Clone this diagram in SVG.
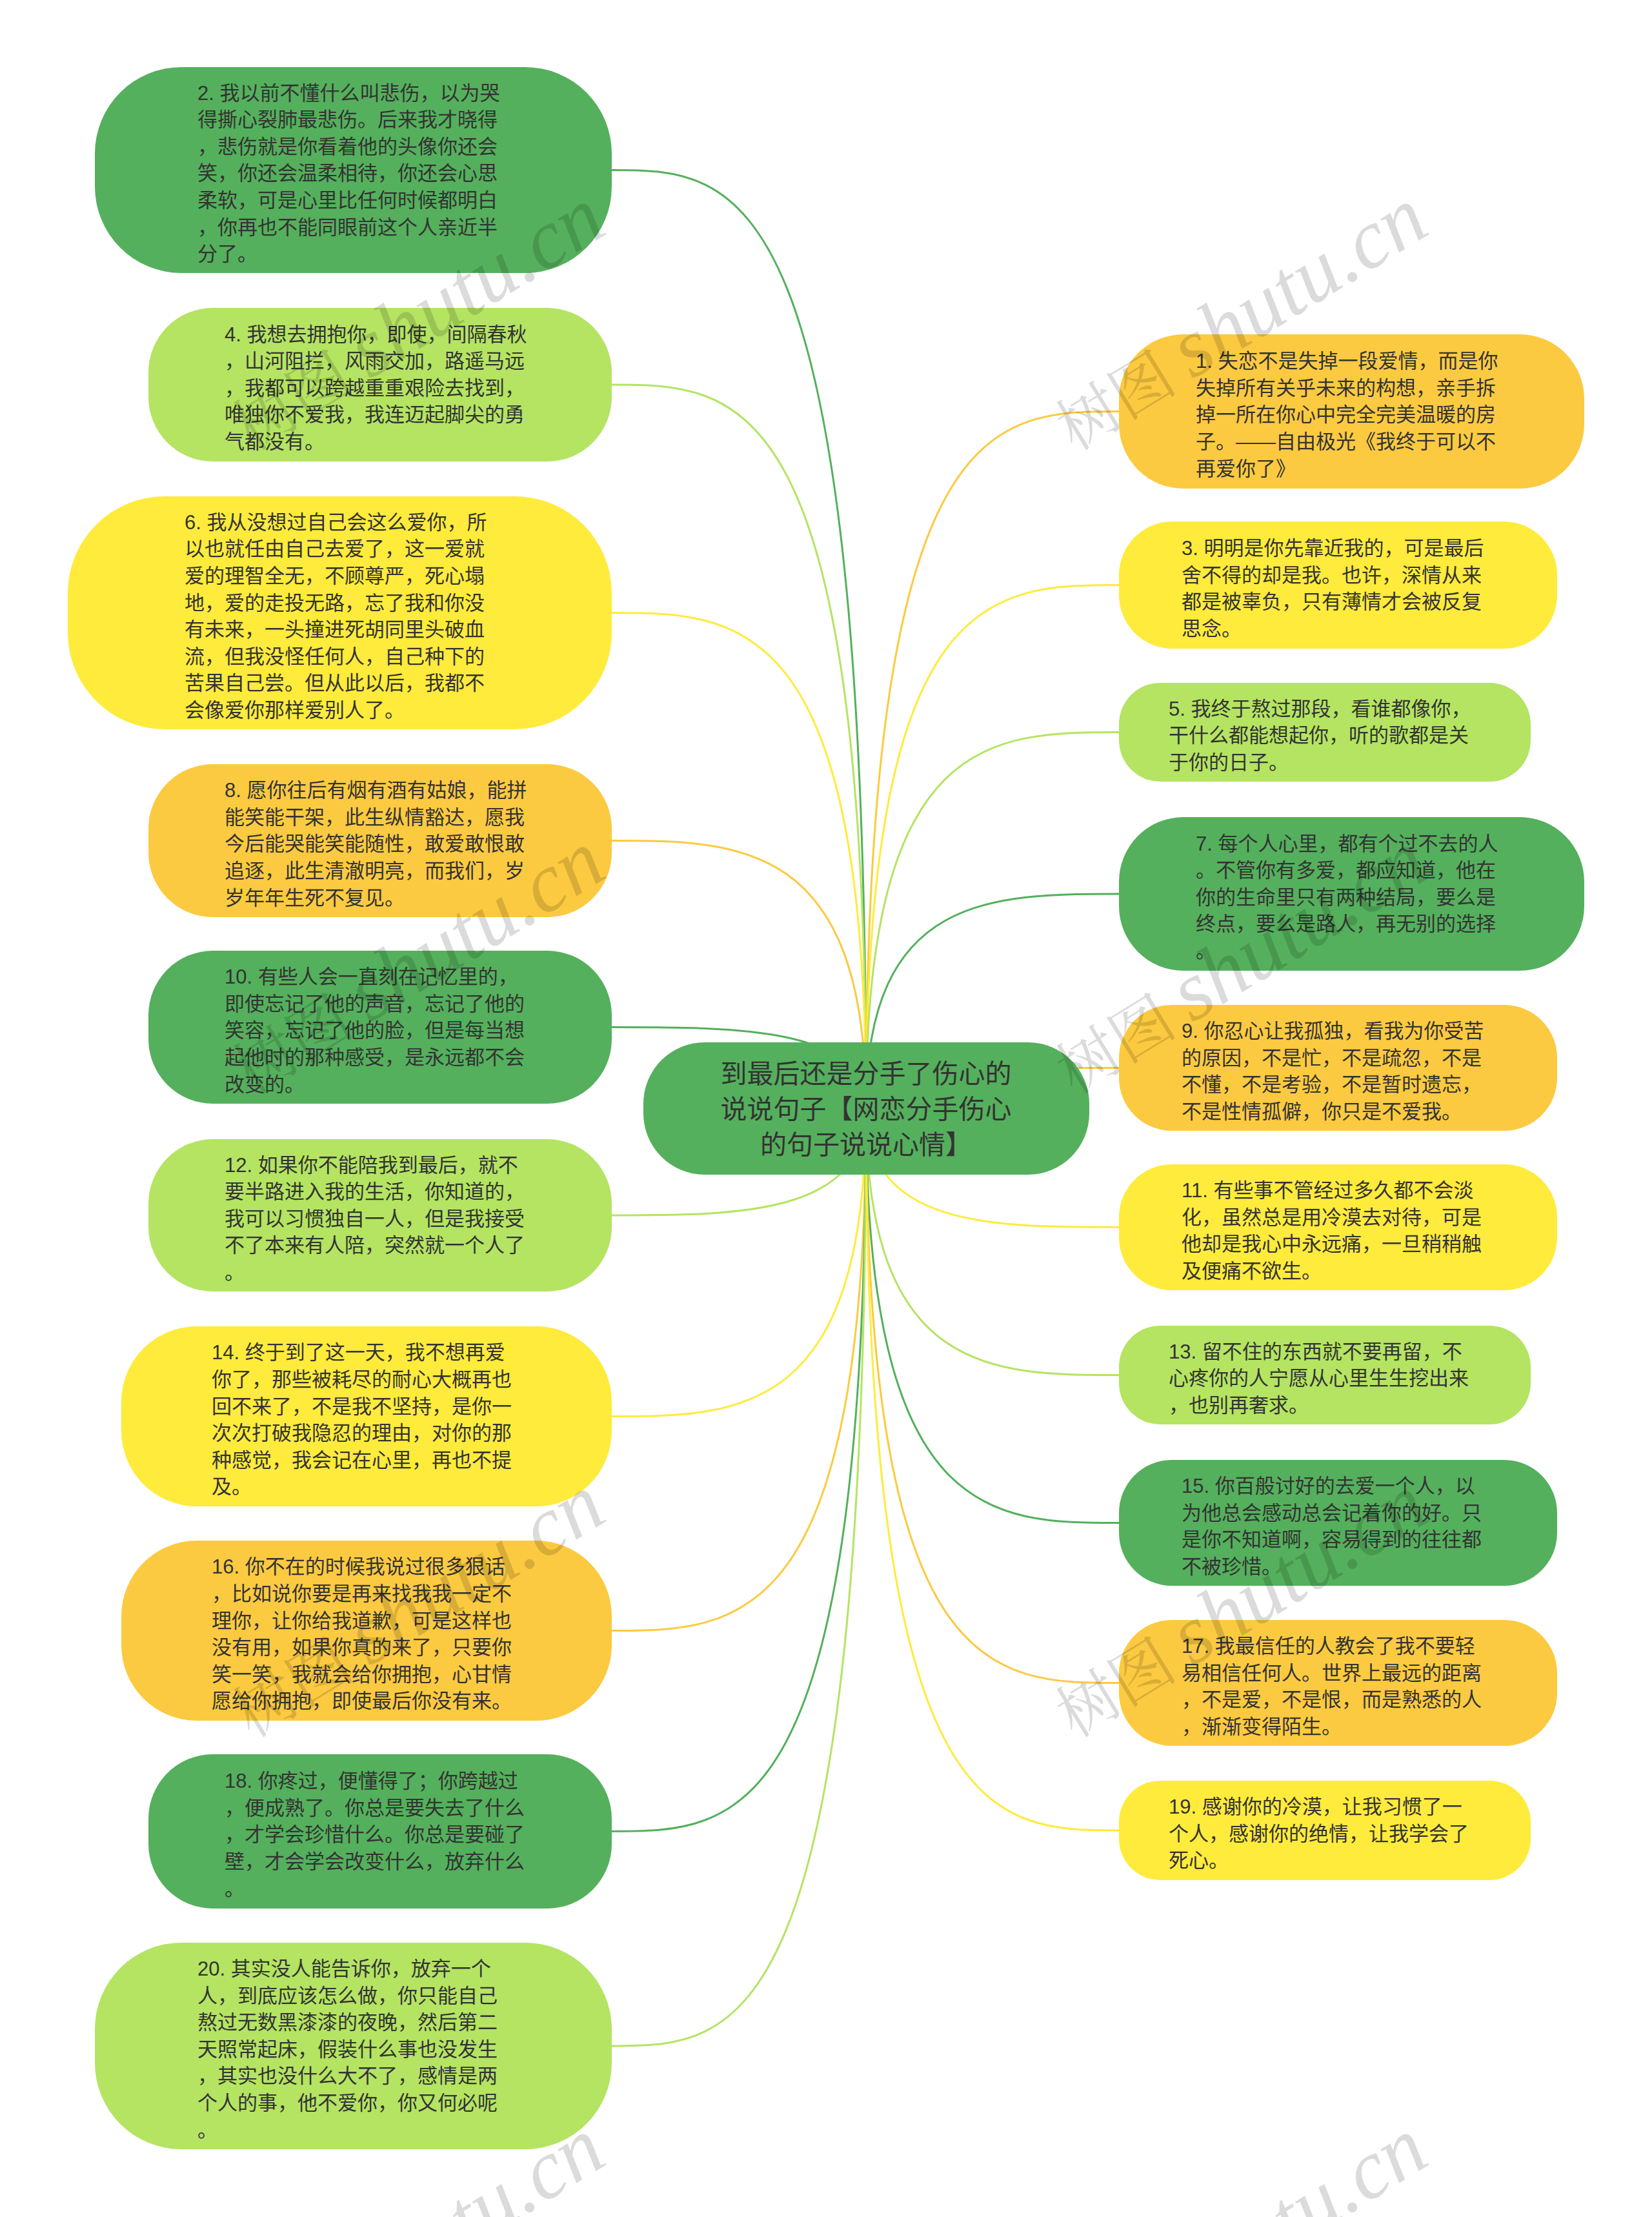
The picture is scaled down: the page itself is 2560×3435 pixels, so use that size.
<svg xmlns="http://www.w3.org/2000/svg" width="2560" height="3435" viewBox="0 0 2560 3435">
<style>
.g{fill:#54B05C}.lg{fill:#B4E462}.y{fill:#FFEB3B}.o{fill:#FCCA40}
.t{font-family:"Liberation Sans","Noto Sans CJK SC",sans-serif;font-size:31px;fill:#333333}
.ct{font-family:"Liberation Sans","Noto Sans CJK SC",sans-serif;font-size:41px;fill:#333333;text-anchor:middle}
.c{fill:none;stroke-width:3}
.cg{stroke:#54B05C}.clg{stroke:#B4E462}.cy{stroke:#FFEB3B}.co{stroke:#FCCA40}
.wm{font-family:"Liberation Serif","Noto Serif CJK SC","Noto Sans CJK SC",serif;fill:#000000;fill-opacity:0.14}
</style>
<rect width="2560" height="3435" fill="#ffffff"/>
<g id="connectors">
<path class="c cg" d="M1342,1717 C1342,263.5 1145,263.5 948,263.5"/>
<path class="c clg" d="M1342,1717 C1342,596 1145,596 948,596"/>
<path class="c cy" d="M1342,1717 C1342,949.5 1145,949.5 948,949.5"/>
<path class="c co" d="M1342,1717 C1342,1302.5 1145,1302.5 948,1302.5"/>
<path class="c cg" d="M1342,1717 C1342,1591.5 1145,1591.5 948,1591.5"/>
<path class="c clg" d="M1342,1717 C1342,1883 1145,1883 948,1883"/>
<path class="c cy" d="M1342,1717 C1342,2194.5 1145,2194.5 948,2194.5"/>
<path class="c co" d="M1342,1717 C1342,2526.5 1145,2526.5 948,2526.5"/>
<path class="c cg" d="M1342,1717 C1342,2837.5 1145,2837.5 948,2837.5"/>
<path class="c clg" d="M1342,1717 C1342,3170 1145,3170 948,3170"/>
<path class="c co" d="M1342,1717 C1342,637.5 1538,637.5 1734,637.5"/>
<path class="c cy" d="M1342,1717 C1342,906.5 1538,906.5 1734,906.5"/>
<path class="c clg" d="M1342,1717 C1342,1134.5 1538,1134.5 1734,1134.5"/>
<path class="c cg" d="M1342,1717 C1342,1385 1538,1385 1734,1385"/>
<path class="c co" d="M1342,1717 C1342,1654.5 1538,1654.5 1734,1654.5"/>
<path class="c cy" d="M1342,1717 C1342,1901.5 1538,1901.5 1734,1901.5"/>
<path class="c clg" d="M1342,1717 C1342,2130.5 1538,2130.5 1734,2130.5"/>
<path class="c cg" d="M1342,1717 C1342,2359.5 1538,2359.5 1734,2359.5"/>
<path class="c co" d="M1342,1717 C1342,2607.5 1538,2607.5 1734,2607.5"/>
<path class="c cy" d="M1342,1717 C1342,2836 1538,2836 1734,2836"/>
</g>
<g id="center">
<rect class="g" x="997" y="1615" width="691" height="205" rx="95" ry="95"/>
<text class="ct"><tspan x="1342" y="1678">到最后还是分手了伤心的</tspan><tspan x="1342" y="1733">说说句子【网恋分手伤心</tspan><tspan x="1342" y="1788">的句子说说心情】</tspan></text>
</g>
<g id="n2">
<rect class="g" x="147" y="104" width="801" height="319" rx="134" ry="134"/>
<text class="t"><tspan x="306" y="154.5">2. 我以前不懂什么叫悲伤，以为哭</tspan><tspan x="306" dy="41.6">得撕心裂肺最悲伤。后来我才晓得</tspan><tspan x="306" dy="41.6">，悲伤就是你看着他的头像你还会</tspan><tspan x="306" dy="41.6">笑，你还会温柔相待，你还会心思</tspan><tspan x="306" dy="41.6">柔软，可是心里比任何时候都明白</tspan><tspan x="306" dy="41.6">，你再也不能同眼前这个人亲近半</tspan><tspan x="306" dy="41.6">分了。</tspan></text>
</g>
<g id="n4">
<rect class="lg" x="230" y="477" width="718" height="238" rx="100" ry="100"/>
<text class="t"><tspan x="348" y="528.6">4. 我想去拥抱你，即使，间隔春秋</tspan><tspan x="348" dy="41.6">，山河阻拦，风雨交加，路遥马远</tspan><tspan x="348" dy="41.6">，我都可以跨越重重艰险去找到，</tspan><tspan x="348" dy="41.6">唯独你不爱我，我连迈起脚尖的勇</tspan><tspan x="348" dy="41.6">气都没有。</tspan></text>
</g>
<g id="n6">
<rect class="y" x="105" y="769" width="843" height="361" rx="150" ry="150"/>
<text class="t"><tspan x="286" y="819.7">6. 我从没想过自己会这么爱你，所</tspan><tspan x="286" dy="41.6">以也就任由自己去爱了，这一爱就</tspan><tspan x="286" dy="41.6">爱的理智全无，不顾尊严，死心塌</tspan><tspan x="286" dy="41.6">地，爱的走投无路，忘了我和你没</tspan><tspan x="286" dy="41.6">有未来，一头撞进死胡同里头破血</tspan><tspan x="286" dy="41.6">流，但我没怪任何人，自己种下的</tspan><tspan x="286" dy="41.6">苦果自己尝。但从此以后，我都不</tspan><tspan x="286" dy="41.6">会像爱你那样爱别人了。</tspan></text>
</g>
<g id="n8">
<rect class="o" x="230" y="1184" width="718" height="237" rx="100" ry="100"/>
<text class="t"><tspan x="348" y="1235.1">8. 愿你往后有烟有酒有姑娘，能拼</tspan><tspan x="348" dy="41.6">能笑能干架，此生纵情豁达，愿我</tspan><tspan x="348" dy="41.6">今后能哭能笑能随性，敢爱敢恨敢</tspan><tspan x="348" dy="41.6">追逐，此生清澈明亮，而我们，岁</tspan><tspan x="348" dy="41.6">岁年年生死不复见。</tspan></text>
</g>
<g id="n10">
<rect class="g" x="230" y="1473" width="718" height="237" rx="100" ry="100"/>
<text class="t"><tspan x="348" y="1524.1">10. 有些人会一直刻在记忆里的，</tspan><tspan x="348" dy="41.6">即使忘记了他的声音，忘记了他的</tspan><tspan x="348" dy="41.6">笑容，忘记了他的脸，但是每当想</tspan><tspan x="348" dy="41.6">起他时的那种感受，是永远都不会</tspan><tspan x="348" dy="41.6">改变的。</tspan></text>
</g>
<g id="n12">
<rect class="lg" x="230" y="1765" width="718" height="236" rx="100" ry="100"/>
<text class="t"><tspan x="348" y="1815.6">12. 如果你不能陪我到最后，就不</tspan><tspan x="348" dy="41.6">要半路进入我的生活，你知道的，</tspan><tspan x="348" dy="41.6">我可以习惯独自一人，但是我接受</tspan><tspan x="348" dy="41.6">不了本来有人陪，突然就一个人了</tspan><tspan x="348" dy="41.6">。</tspan></text>
</g>
<g id="n14">
<rect class="y" x="188" y="2055" width="760" height="279" rx="117" ry="117"/>
<text class="t"><tspan x="328" y="2106.3">14. 终于到了这一天，我不想再爱</tspan><tspan x="328" dy="41.6">你了，那些被耗尽的耐心大概再也</tspan><tspan x="328" dy="41.6">回不来了，不是我不坚持，是你一</tspan><tspan x="328" dy="41.6">次次打破我隐忍的理由，对你的那</tspan><tspan x="328" dy="41.6">种感觉，我会记在心里，再也不提</tspan><tspan x="328" dy="41.6">及。</tspan></text>
</g>
<g id="n16">
<rect class="o" x="188" y="2387" width="760" height="279" rx="117" ry="117"/>
<text class="t"><tspan x="328" y="2438.3">16. 你不在的时候我说过很多狠话</tspan><tspan x="328" dy="41.6">，比如说你要是再来找我我一定不</tspan><tspan x="328" dy="41.6">理你，让你给我道歉，可是这样也</tspan><tspan x="328" dy="41.6">没有用，如果你真的来了，只要你</tspan><tspan x="328" dy="41.6">笑一笑，我就会给你拥抱，心甘情</tspan><tspan x="328" dy="41.6">愿给你拥抱，即使最后你没有来。</tspan></text>
</g>
<g id="n18">
<rect class="g" x="230" y="2718" width="718" height="239" rx="100" ry="100"/>
<text class="t"><tspan x="348" y="2770.1">18. 你疼过，便懂得了；你跨越过</tspan><tspan x="348" dy="41.6">，便成熟了。你总是要失去了什么</tspan><tspan x="348" dy="41.6">，才学会珍惜什么。你总是要碰了</tspan><tspan x="348" dy="41.6">壁，才会学会改变什么，放弃什么</tspan><tspan x="348" dy="41.6">。</tspan></text>
</g>
<g id="n20">
<rect class="lg" x="147" y="3010" width="801" height="320" rx="134" ry="134"/>
<text class="t"><tspan x="306" y="3061">20. 其实没人能告诉你，放弃一个</tspan><tspan x="306" dy="41.6">人，到底应该怎么做，你只能自己</tspan><tspan x="306" dy="41.6">熬过无数黑漆漆的夜晚，然后第二</tspan><tspan x="306" dy="41.6">天照常起床，假装什么事也没发生</tspan><tspan x="306" dy="41.6">，其实也没什么大不了，感情是两</tspan><tspan x="306" dy="41.6">个人的事，他不爱你，你又何必呢</tspan><tspan x="306" dy="41.6">。</tspan></text>
</g>
<g id="n1">
<rect class="o" x="1734" y="518" width="721" height="239" rx="100" ry="100"/>
<text class="t"><tspan x="1853" y="570.1">1. 失恋不是失掉一段爱情，而是你</tspan><tspan x="1853" dy="41.6">失掉所有关乎未来的构想，亲手拆</tspan><tspan x="1853" dy="41.6">掉一所在你心中完全完美温暖的房</tspan><tspan x="1853" dy="41.6">子。——自由极光《我终于可以不</tspan><tspan x="1853" dy="41.6">再爱你了》</tspan></text>
</g>
<g id="n3">
<rect class="y" x="1734" y="808" width="679" height="197" rx="83" ry="83"/>
<text class="t"><tspan x="1831" y="859.9">3. 明明是你先靠近我的，可是最后</tspan><tspan x="1831" dy="41.6">舍不得的却是我。也许，深情从来</tspan><tspan x="1831" dy="41.6">都是被辜负，只有薄情才会被反复</tspan><tspan x="1831" dy="41.6">思念。</tspan></text>
</g>
<g id="n5">
<rect class="lg" x="1734" y="1058" width="638" height="153" rx="64" ry="64"/>
<text class="t"><tspan x="1811" y="1108.7">5. 我终于熬过那段，看谁都像你，</tspan><tspan x="1811" dy="41.6">干什么都能想起你，听的歌都是关</tspan><tspan x="1811" dy="41.6">于你的日子。</tspan></text>
</g>
<g id="n7">
<rect class="g" x="1734" y="1266" width="721" height="238" rx="100" ry="100"/>
<text class="t"><tspan x="1853" y="1317.6">7. 每个人心里，都有个过不去的人</tspan><tspan x="1853" dy="41.6">。不管你有多爱，都应知道，他在</tspan><tspan x="1853" dy="41.6">你的生命里只有两种结局，要么是</tspan><tspan x="1853" dy="41.6">终点，要么是路人，再无别的选择</tspan><tspan x="1853" dy="41.6">。</tspan></text>
</g>
<g id="n9">
<rect class="o" x="1734" y="1557" width="679" height="195" rx="82" ry="82"/>
<text class="t"><tspan x="1831" y="1607.9">9. 你忍心让我孤独，看我为你受苦</tspan><tspan x="1831" dy="41.6">的原因，不是忙，不是疏忽，不是</tspan><tspan x="1831" dy="41.6">不懂，不是考验，不是暂时遗忘，</tspan><tspan x="1831" dy="41.6">不是性情孤僻，你只是不爱我。</tspan></text>
</g>
<g id="n11">
<rect class="y" x="1734" y="1804" width="679" height="195" rx="82" ry="82"/>
<text class="t"><tspan x="1831" y="1854.9">11. 有些事不管经过多久都不会淡</tspan><tspan x="1831" dy="41.6">化，虽然总是用冷漠去对待，可是</tspan><tspan x="1831" dy="41.6">他却是我心中永远痛，一旦稍稍触</tspan><tspan x="1831" dy="41.6">及便痛不欲生。</tspan></text>
</g>
<g id="n13">
<rect class="lg" x="1734" y="2054" width="638" height="153" rx="64" ry="64"/>
<text class="t"><tspan x="1811" y="2104.7">13. 留不住的东西就不要再留，不</tspan><tspan x="1811" dy="41.6">心疼你的人宁愿从心里生生挖出来</tspan><tspan x="1811" dy="41.6">，也别再奢求。</tspan></text>
</g>
<g id="n15">
<rect class="g" x="1734" y="2262" width="679" height="195" rx="82" ry="82"/>
<text class="t"><tspan x="1831" y="2312.9">15. 你百般讨好的去爱一个人，以</tspan><tspan x="1831" dy="41.6">为他总会感动总会记着你的好。只</tspan><tspan x="1831" dy="41.6">是你不知道啊，容易得到的往往都</tspan><tspan x="1831" dy="41.6">不被珍惜。</tspan></text>
</g>
<g id="n17">
<rect class="o" x="1734" y="2510" width="679" height="195" rx="82" ry="82"/>
<text class="t"><tspan x="1831" y="2560.9">17. 我最信任的人教会了我不要轻</tspan><tspan x="1831" dy="41.6">易相信任何人。世界上最远的距离</tspan><tspan x="1831" dy="41.6">，不是爱，不是恨，而是熟悉的人</tspan><tspan x="1831" dy="41.6">，渐渐变得陌生。</tspan></text>
</g>
<g id="n19">
<rect class="y" x="1734" y="2759" width="638" height="154" rx="64" ry="64"/>
<text class="t"><tspan x="1811" y="2810.2">19. 感谢你的冷漠，让我习惯了一</tspan><tspan x="1811" dy="41.6">个人，感谢你的绝情，让我学会了</tspan><tspan x="1811" dy="41.6">死心。</tspan></text>
</g>
<g id="watermarks" class="wm">
<text transform="translate(390,700) rotate(-31.5)"><tspan font-size="95">树图 </tspan><tspan font-size="130" font-style="italic">shutu.cn</tspan></text>
<text transform="translate(1665,700) rotate(-31.5)"><tspan font-size="95">树图 </tspan><tspan font-size="130" font-style="italic">shutu.cn</tspan></text>
<text transform="translate(390,1697) rotate(-31.5)"><tspan font-size="95">树图 </tspan><tspan font-size="130" font-style="italic">shutu.cn</tspan></text>
<text transform="translate(1665,1697) rotate(-31.5)"><tspan font-size="95">树图 </tspan><tspan font-size="130" font-style="italic">shutu.cn</tspan></text>
<text transform="translate(390,2694) rotate(-31.5)"><tspan font-size="95">树图 </tspan><tspan font-size="130" font-style="italic">shutu.cn</tspan></text>
<text transform="translate(1665,2694) rotate(-31.5)"><tspan font-size="95">树图 </tspan><tspan font-size="130" font-style="italic">shutu.cn</tspan></text>
<text transform="translate(390,3691) rotate(-31.5)"><tspan font-size="95">树图 </tspan><tspan font-size="130" font-style="italic">shutu.cn</tspan></text>
<text transform="translate(1665,3691) rotate(-31.5)"><tspan font-size="95">树图 </tspan><tspan font-size="130" font-style="italic">shutu.cn</tspan></text>
</g>
</svg>
